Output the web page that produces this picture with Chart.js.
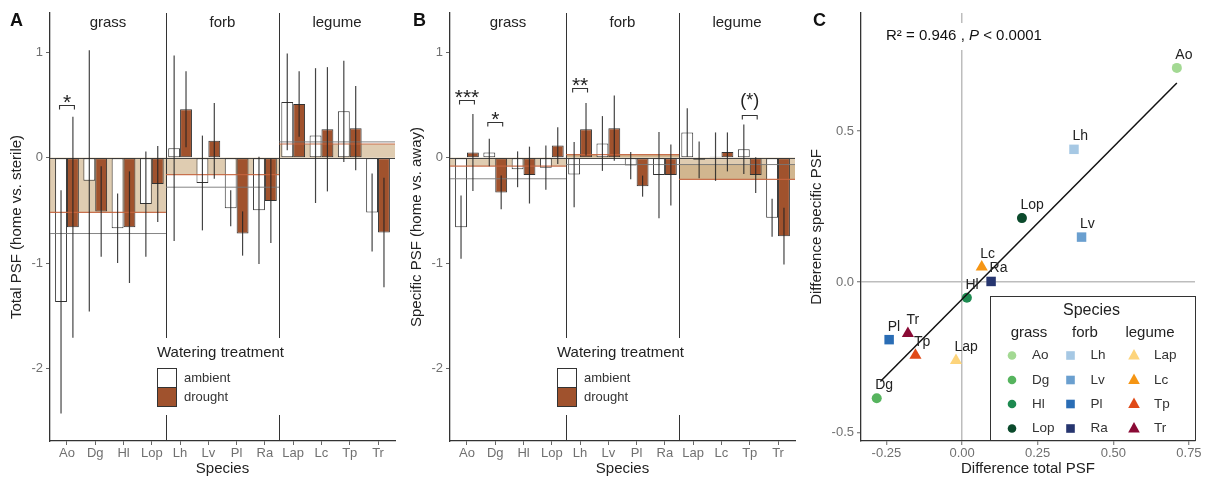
<!DOCTYPE html>
<html>
<head>
<meta charset="utf-8">
<script src="https://cdn.jsdelivr.net/npm/chart.js@4.4.1/dist/chart.umd.min.js"></script>
<style>
  html, body { margin: 0; padding: 0; background: #fff; }
  #wrap { position: relative; width: 1215px; height: 479px; }
  canvas { position: absolute; top: 0; }
</style>
</head>
<body>
<div id="wrap">
  <canvas id="chartA" width="400" height="479" style="left:0px"></canvas>
  <canvas id="chartB" width="400" height="479" style="left:400px"></canvas>
  <canvas id="chartC" width="415" height="479" style="left:800px"></canvas>
</div>
<script>
const FONT = "'Liberation Sans', Arial, Helvetica, sans-serif";
Chart.defaults.font.family = FONT;

// species / functional groups
const species = ['Ao', 'Dg', 'Hl', 'Lop', 'Lh', 'Lv', 'Pl', 'Ra', 'Lap', 'Lc', 'Tp', 'Tr'];
const speciesGroup = [0, 0, 0, 0, 1, 1, 1, 1, 2, 2, 2, 2];
const groupNames = ['grass', 'forb', 'legume'];
const treatments = ['ambient', 'drought'];
const yTicksPSF = [-2, -1, 0, 1];

// A: total PSF (home vs. sterile), bar = mean, ci = half width of the error bar
const totalAmbient   = [-1.37, -0.22, -0.67, -0.44, 0.09, -0.24, -0.48, -0.50, 0.53, 0.21, 0.44, -0.52];
const totalAmbientCI = [1.06, 1.24, 0.33, 0.50, 0.88, 0.45, 0.17, 0.51, 0.46, 0.64, 0.48, 0.37];
const totalDrought   = [-0.66, -0.51, -0.66, -0.25, 0.46, 0.16, -0.72, -0.41, 0.51, 0.27, 0.28, -0.71];
const totalDroughtCI = [1.05, 0.43, 0.53, 0.36, 0.36, 0.36, 0.21, 0.40, 0.31, 0.59, 0.40, 0.52];
const totalGroupAmbient = [-0.72, -0.28, 0.15];
const totalGroupDrought = [-0.52, -0.16, 0.13];
const totalSig = [{ sp: 'Ao', y: 0.50, label: '*' }];

// B: specific PSF (home vs. away)
const specAmbient   = [-0.66, 0.05, -0.11, -0.095, -0.16, 0.135, -0.075, -0.165, 0.24, 0.01, 0.08, -0.57];
const specAmbientCI = [0.30, 0.13, 0.17, 0.21, 0.31, 0.26, 0.13, 0.41, 0.23, 0.23, 0.235, 0.18];
const specDrought   = [0.05, -0.33, -0.165, 0.115, 0.27, 0.28, -0.27, -0.165, -0.02, 0.055, -0.165, -0.745];
const specDroughtCI = [0.365, 0.16, 0.27, 0.175, 0.25, 0.31, 0.10, 0.29, 0.175, 0.185, 0.17, 0.27];
const specGroupAmbient = [-0.20, -0.065, -0.065];
const specGroupDrought = [-0.08, 0.03, -0.205];
const specSig = [
  { sp: 'Ao', y: 0.55, label: '***' },
  { sp: 'Dg', y: 0.34, label: '*' },
  { sp: 'Lh', y: 0.66, label: '**' },
  { sp: 'Tp', y: 0.41, label: '(*)' }
];

// C: difference total vs. difference specific PSF
const diffTotal    = [0.710, -0.282, 0.016, 0.198, 0.370, 0.395, -0.241, 0.096, -0.020, 0.065, -0.154, -0.179];
const diffSpecific = [0.710, -0.385, -0.052, 0.212, 0.440, 0.149, -0.191, 0.002, -0.260, 0.050, -0.243, -0.171];
const fitX = [-0.27, 0.71];
const fitY = [-0.33, 0.66];
const xTicksC = [-0.25, 0, 0.25, 0.5, 0.75];
const yTicksC = [-0.5, 0, 0.5];
const rSquared = '0.946';
const pText = '< 0.0001';

// styles
const speciesColors = ['#a3d993', '#56b45e', '#1d8a50', '#0b4a2c',
                       '#a6c8e4', '#6a9fcf', '#2a6db5', '#26356f',
                       '#fdd47b', '#f59514', '#e04a17', '#8a0a35'];
const groupShapes = ['circle', 'rect', 'triangle'];
const groupRadius = [5, 6.7, 7];
const DROUGHT = '#a0522d';

function groupRange(k) {
  const idx = speciesGroup.map((g, i) => g === k ? i : -1).filter(i => i >= 0);
  return [idx[0], idx[idx.length - 1]];
}

function put(ctx, str, x, y, size, color, align, style) {
  ctx.font = (style || '') + ' ' + size + 'px ' + FONT;
  ctx.fillStyle = color;
  ctx.textAlign = align || 'left';
  ctx.textBaseline = 'middle';
  ctx.fillText(str, x, y);
}

function hline(ctx, x0, x1, y, color, w) {
  ctx.strokeStyle = color; ctx.lineWidth = w;
  ctx.beginPath(); ctx.moveTo(x0, y); ctx.lineTo(x1, y); ctx.stroke();
}

// x extent of a species group, first/last group run to the panel edges
function groupSpan(chart, k) {
  const { chartArea: a, scales: { x } } = chart;
  const half = (x.getPixelForValue(1) - x.getPixelForValue(0)) / 2;
  const [f, l] = groupRange(k);
  const x0 = k === 0 ? a.left : x.getPixelForValue(f) - half;
  const x1 = k === groupNames.length - 1 ? a.right : x.getPixelForValue(l) + half;
  return [x0, x1];
}

function barPanel(canvasId, letter, letterX, yTitle, amb, ambCI, dr, drCI, grpAmb, grpDr, sig) {
  const decor = {
    id: 'decor' + letter,
    beforeDatasetsDraw(chart) {
      const { ctx, chartArea: a, scales: { y } } = chart;
      const y0 = y.getPixelForValue(0);
      ctx.save();
      groupNames.forEach((g, k) => {
        const [x0, x1] = groupSpan(chart, k);
        ctx.fillStyle = 'rgba(167,115,40,0.52)';
        ctx.fillRect(x0, y0, x1 - x0, y.getPixelForValue(grpDr[k]) - y0);
        ctx.fillStyle = 'rgba(255,255,255,0.3)';
        ctx.fillRect(x0, y0, x1 - x0, y.getPixelForValue(grpAmb[k]) - y0);
      });
      hline(ctx, a.left, a.right, Math.round(y0) + 0.5, '#444', 1);
      for (let k = 1; k < groupNames.length; k++) {
        const xs = Math.round(groupSpan(chart, k)[0]) + 0.5;
        ctx.strokeStyle = '#333'; ctx.lineWidth = 1;
        ctx.beginPath(); ctx.moveTo(xs, a.top); ctx.lineTo(xs, a.bottom); ctx.stroke();
      }
      ctx.restore();
    },
    afterDatasetsDraw(chart) {
      const { ctx, scales: { y } } = chart;
      ctx.save();
      // group mean lines and group names
      groupNames.forEach((g, k) => {
        const [x0, x1] = groupSpan(chart, k);
        hline(ctx, x0, x1, y.getPixelForValue(grpAmb[k]), 'rgba(120,120,120,0.9)', 1);
        hline(ctx, x0, x1, y.getPixelForValue(grpDr[k]), 'rgba(196,100,62,0.9)', 1.2);
        put(ctx, g, (x0 + x1) / 2, 23, 15, '#222', 'center');
      });
      // error bars
      [[amb, ambCI], [dr, drCI]].forEach(([vals, ci], d) => {
        const meta = chart.getDatasetMeta(d);
        ctx.strokeStyle = 'rgba(35,35,35,0.85)'; ctx.lineWidth = 1.2;
        vals.forEach((v, i) => {
          const px = meta.data[i].x;
          ctx.beginPath();
          ctx.moveTo(px, y.getPixelForValue(v + ci[i]));
          ctx.lineTo(px, y.getPixelForValue(v - ci[i]));
          ctx.stroke();
        });
      });
      // significance brackets
      sig.forEach(s => {
        const i = species.indexOf(s.sp);
        const xa = chart.getDatasetMeta(0).data[i].x - 1.5;
        const xb = chart.getDatasetMeta(1).data[i].x + 1.5;
        const py = Math.round(y.getPixelForValue(s.y)) + 0.5;
        ctx.strokeStyle = '#333'; ctx.lineWidth = 1.1;
        ctx.beginPath();
        ctx.moveTo(xa, py + 4); ctx.lineTo(xa, py); ctx.lineTo(xb, py); ctx.lineTo(xb, py + 4);
        ctx.stroke();
        ctx.fillStyle = '#222'; ctx.textAlign = 'center'; ctx.textBaseline = 'alphabetic';
        if (s.label[0] === '(') {
          ctx.font = '18px ' + FONT;
          ctx.fillText(s.label, (xa + xb) / 2, py - 10);
        } else {
          ctx.font = '21px ' + FONT;
          ctx.fillText(s.label, (xa + xb) / 2, py + 3.5);
        }
      });
      ctx.restore();
    },
    afterDraw(chart) {
      const { ctx } = chart;
      ctx.save();
      ctx.fillStyle = '#fff';
      ctx.fillRect(152, 338, 140, 77);
      put(ctx, 'Watering treatment', 157, 353, 15, '#222');
      ctx.lineWidth = 1; ctx.strokeStyle = '#333';
      ctx.fillStyle = '#fff'; ctx.fillRect(157.5, 368.5, 19, 19); ctx.strokeRect(157.5, 368.5, 19, 19);
      ctx.fillStyle = DROUGHT; ctx.fillRect(157.5, 387.5, 19, 19); ctx.strokeRect(157.5, 387.5, 19, 19);
      put(ctx, treatments[0], 184, 378, 13, '#333');
      put(ctx, treatments[1], 184, 397.5, 13, '#333');
      put(ctx, letter, letterX, 21, 18, '#111', 'left', 'bold');
      ctx.restore();
    }
  };

  return new Chart(document.getElementById(canvasId), {
    type: 'bar',
    data: {
      labels: species,
      datasets: [
        { label: treatments[0], data: amb, backgroundColor: '#fff', borderColor: '#333', borderWidth: 1,
          borderSkipped: false, categoryPercentage: 0.84, barPercentage: 1 },
        { label: treatments[1], data: dr, backgroundColor: DROUGHT, borderColor: '#333', borderWidth: 1,
          borderSkipped: false, categoryPercentage: 0.84, barPercentage: 1 }
      ]
    },
    options: {
      responsive: false,
      animation: false,
      layout: { padding: { top: 13, right: 5, left: 0, bottom: 0 } },
      plugins: { legend: { display: false }, tooltip: { enabled: false } },
      scales: {
        x: {
          offset: true,
          // discrete axis padded by 0.6 of a category on each side
          afterBuildTicks: s => { s._startValue = -0.6; s._valueRange = species.length + 0.2; },
          grid: { display: true, drawOnChartArea: false, offset: false, tickLength: 4, tickColor: '#666' },
          border: { color: '#333', width: 1.3 },
          ticks: { color: '#707070', font: { size: 13 }, padding: 1, maxRotation: 0, autoSkip: false },
          title: { display: true, text: 'Species', color: '#222', font: { size: 15 }, padding: { top: 0, bottom: 1 } },
          afterFit: s => { s.height = 38; }
        },
        y: {
          min: -2.69, max: 1.374,
          afterBuildTicks: s => { s.ticks = yTicksPSF.map(v => ({ value: v })); },
          grid: { display: true, drawOnChartArea: false, tickLength: 4, tickColor: '#666' },
          border: { color: '#333', width: 1.3 },
          ticks: { color: '#707070', font: { size: 13 }, padding: 3, callback: v => String(v) },
          title: { display: true, text: yTitle, color: '#222', font: { size: 15 }, padding: { top: 8, bottom: 0 } },
          afterFit: s => { s.width = 50; }
        }
      }
    },
    plugins: [decor]
  });
}

barPanel('chartA', 'A', 10, 'Total PSF (home vs. sterile)',
  totalAmbient, totalAmbientCI, totalDrought, totalDroughtCI, totalGroupAmbient, totalGroupDrought, totalSig);
barPanel('chartB', 'B', 13, 'Specific PSF (home vs. away)',
  specAmbient, specAmbientCI, specDrought, specDroughtCI, specGroupAmbient, specGroupDrought, specSig);

// ---- panel C ----
function shape(ctx, kind, x, y, r, color) {
  ctx.fillStyle = color;
  ctx.beginPath();
  if (kind === 'circle') ctx.arc(x, y, r, 0, Math.PI * 2);
  else if (kind === 'rect') ctx.rect(x - r, y - r, 2 * r, 2 * r);
  else { ctx.moveTo(x, y - r * 1.1); ctx.lineTo(x + r, y + r * 0.7); ctx.lineTo(x - r, y + r * 0.7); ctx.closePath(); }
  ctx.fill();
}

const decorC = {
  id: 'decorC',
  afterDatasetsDraw(chart) {
    const { ctx, scales: { x, y } } = chart;
    ctx.save();
    species.forEach((sp, i) => {
      put(ctx, sp, x.getPixelForValue(diffTotal[i]) - 1.5, y.getPixelForValue(diffSpecific[i]) - 13, 14, '#222', 'left');
    });
    ctx.restore();
  },
  afterDraw(chart) {
    const { ctx } = chart;
    ctx.save();
    // R2 annotation
    const tx = 86, ty = 36;
    ctx.font = '15px ' + FONT;
    const p1 = 'R² = ' + rSquared + ' , ';
    const w1 = ctx.measureText(p1).width;
    ctx.font = 'italic 15px ' + FONT;
    const w2 = ctx.measureText('P').width;
    ctx.font = '15px ' + FONT;
    const p3 = ' ' + pText;
    const w3 = ctx.measureText(p3).width;
    ctx.fillStyle = '#fff';
    ctx.fillRect(tx - 2, ty - 13, w1 + w2 + w3 + 4, 27);
    put(ctx, p1, tx, ty, 15, '#111');
    put(ctx, 'P', tx + w1, ty, 15, '#111', 'left', 'italic');
    put(ctx, p3, tx + w1 + w2, ty, 15, '#111');

    // species legend
    ctx.fillStyle = '#fff';
    ctx.fillRect(190.5, 296.5, 205, 144);
    ctx.strokeStyle = '#333'; ctx.lineWidth = 1;
    ctx.strokeRect(190.5, 296.5, 205, 144);
    put(ctx, 'Species', 291.5, 311, 16, '#222', 'center');
    const colSym = [212, 270.5, 334];
    const colHead = [229, 285, 350];
    const rowY = [355.5, 380, 404, 428.5];
    const legR = [4.3, 4.3, 5.8];
    groupNames.forEach((g, k) => {
      put(ctx, g, colHead[k], 333, 15, '#222', 'center');
      const members = species.map((s, i) => i).filter(i => speciesGroup[i] === k);
      members.forEach((i, r) => {
        shape(ctx, groupShapes[k], colSym[k], rowY[r], legR[k], speciesColors[i]);
        put(ctx, species[i], colSym[k] + 20, rowY[r], 13.5, '#333', 'left');
      });
    });
    put(ctx, 'C', 13, 21, 18, '#111', 'left', 'bold');
    ctx.restore();
  }
};

const gridZero = ctx => ctx.tick && ctx.tick.value === 0 ? '#bdbdbd' : 'rgba(0,0,0,0)';

new Chart(document.getElementById('chartC'), {
  type: 'scatter',
  data: {
    datasets: [
      { type: 'line', data: fitX.map((v, i) => ({ x: v, y: fitY[i] })), borderColor: '#111', borderWidth: 1.5,
        pointRadius: 0, fill: false, showLine: true }
    ].concat(groupNames.map((g, k) => {
      const members = species.map((s, i) => i).filter(i => speciesGroup[i] === k);
      return {
        label: g,
        data: members.map(i => ({ x: diffTotal[i], y: diffSpecific[i] })),
        pointStyle: groupShapes[k],
        pointRadius: groupRadius[k],
        backgroundColor: members.map(i => speciesColors[i]),
        borderColor: members.map(i => speciesColors[i]),
        borderWidth: 0
      };
    }))
  },
  options: {
    responsive: false,
    animation: false,
    layout: { padding: { top: 13, right: 20, left: 0, bottom: 0 } },
    plugins: { legend: { display: false }, tooltip: { enabled: false } },
    scales: {
      x: {
        type: 'linear', position: 'bottom', min: -0.334, max: 0.77,
        afterBuildTicks: s => { s.ticks = xTicksC.map(v => ({ value: v })); },
        grid: { color: gridZero, lineWidth: 1.5, tickLength: 4, tickColor: '#666', tickWidth: 1 },
        border: { color: '#333', width: 1.3 },
        ticks: { color: '#707070', font: { size: 13 }, padding: 1, maxRotation: 0, callback: v => v.toFixed(2) },
        title: { display: true, text: 'Difference total PSF', color: '#222', font: { size: 15 }, padding: { top: 0, bottom: 1 } },
        afterFit: s => { s.height = 38; }
      },
      y: {
        type: 'linear', min: -0.527, max: 0.892,
        afterBuildTicks: s => { s.ticks = yTicksC.map(v => ({ value: v })); },
        grid: { color: gridZero, lineWidth: 1.5, tickLength: 4, tickColor: '#666', tickWidth: 1 },
        border: { color: '#333', width: 1.3 },
        ticks: { color: '#707070', font: { size: 13 }, padding: 3, callback: v => v.toFixed(1) },
        title: { display: true, text: 'Difference specific PSF', color: '#222', font: { size: 15 }, padding: { top: 8, bottom: 0 } },
        afterFit: s => { s.width = 61; }
      }
    }
  },
  plugins: [decorC]
});
</script>
</body>
</html>
